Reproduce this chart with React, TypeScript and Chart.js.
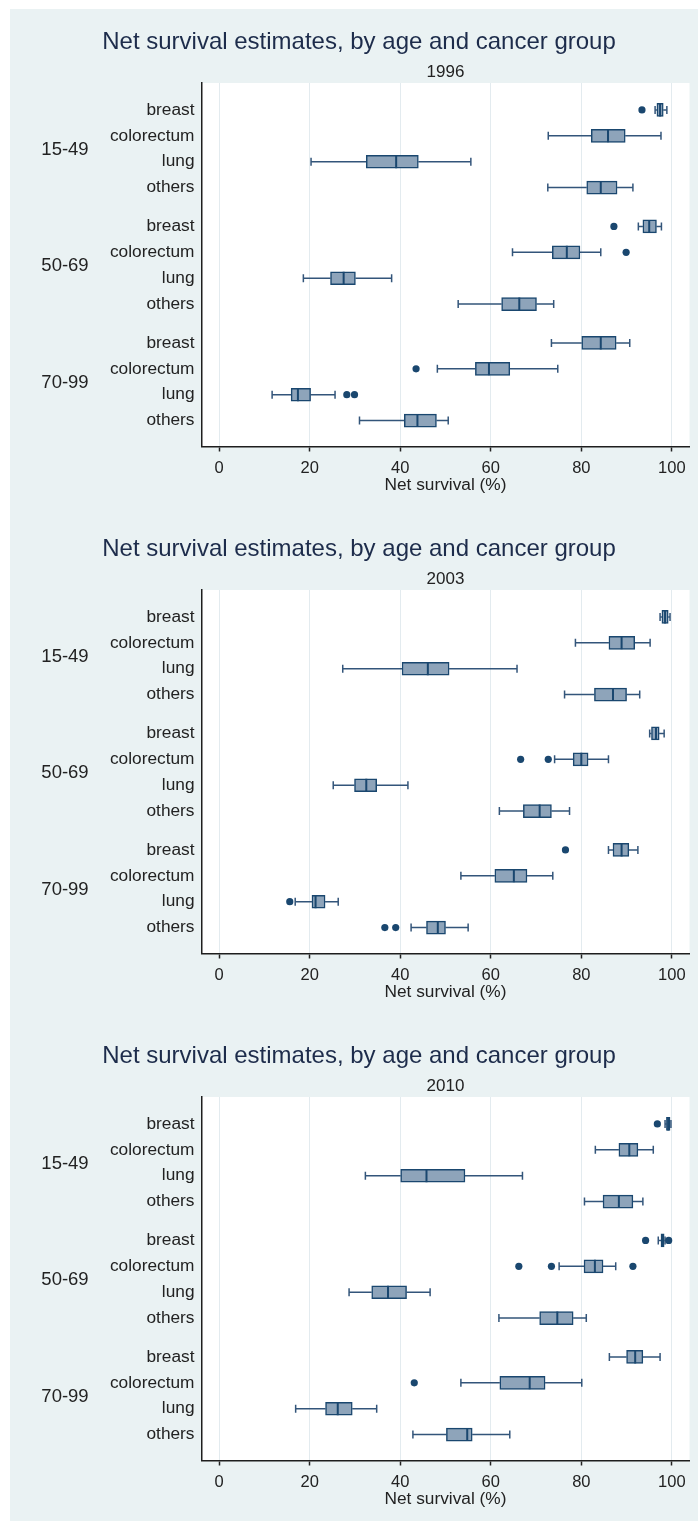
import { useEffect, useRef } from 'react';
import { Chart, registerables } from 'chart.js';

Chart.register(...registerables);

const YEARS = ['1996', '2003', '2010'];
const AGE_GROUPS = ['15-49', '50-69', '70-99'];
const CANCERS = ['breast', 'colorectum', 'lung', 'others'];
const X_TICKS = [0, 20, 40, 60, 80, 100];

// Rows run age group by age group, cancers in CANCERS order within each group.
const LOW_1996 = [96.3, 72.7, 20.3, 72.6, 92.6, 64.8, 18.6, 52.8, 73.4, 48.2, 11.7, 31.0];
const Q1_1996 = [96.7, 82.2, 32.5, 81.2, 93.6, 73.6, 24.6, 62.4, 80.1, 56.6, 15.9, 40.9];
const MED_1996 = [97.4, 85.9, 39.1, 84.3, 95.0, 76.8, 27.5, 66.3, 84.3, 59.6, 17.4, 43.8];
const Q3_1996 = [98.1, 89.7, 44.0, 87.9, 96.6, 79.7, 30.1, 70.1, 87.7, 64.2, 20.2, 48.0];
const HIGH_1996 = [98.9, 97.6, 55.6, 91.4, 97.7, 84.3, 38.1, 73.9, 90.7, 74.8, 25.6, 50.6];
const OUT_1996 = [[93.4], [], [], [], [87.2], [89.9], [], [], [], [43.5], [28.2, 29.9], []];

const LOW_2003 = [97.4, 78.7, 27.3, 76.3, 95.1, 74.1, 25.2, 61.9, 86.0, 53.4, 16.8, 42.4];
const Q1_2003 = [97.8, 86.1, 40.4, 82.9, 95.5, 78.2, 29.9, 67.2, 87.0, 60.9, 20.5, 45.8];
const MED_2003 = [98.5, 88.9, 46.1, 87.0, 96.5, 80.0, 32.5, 70.8, 88.9, 65.1, 21.3, 48.3];
const Q3_2003 = [99.2, 91.8, 50.8, 90.0, 97.2, 81.5, 34.8, 73.4, 90.5, 68.0, 23.4, 50.0];
const HIGH_2003 = [99.6, 95.2, 65.8, 92.9, 98.3, 86.0, 41.7, 77.4, 92.5, 73.7, 26.3, 55.0];
const OUT_2003 = [[], [], [], [], [], [66.6, 72.7], [], [], [76.5], [], [15.6], [36.6, 39.0]];

const LOW_2010 = [98.5, 83.1, 32.3, 80.7, 97.0, 75.1, 28.7, 61.8, 86.2, 53.4, 16.9, 42.8];
const Q1_2010 = [98.8, 88.3, 40.1, 84.8, 97.6, 80.6, 33.7, 70.8, 90.0, 62.0, 23.5, 50.2];
const MED_2010 = [99.2, 90.6, 45.8, 88.3, 97.9, 83.0, 37.3, 74.7, 91.9, 68.6, 26.2, 54.8];
const Q3_2010 = [99.6, 92.5, 54.3, 91.4, 98.3, 84.8, 41.4, 78.2, 93.6, 72.0, 29.4, 55.9];
const HIGH_2010 = [99.8, 95.9, 67.0, 93.6, 98.5, 87.6, 46.6, 81.1, 97.4, 80.1, 34.8, 64.2];
const OUT_2010 = [[96.8], [], [], [], [94.2, 99.3], [66.2, 73.4, 91.4], [], [], [], [43.1], [], []];

const TITLE = 'Net survival estimates, by age and cancer group';
const X_TITLE = 'Net survival (%)';

type Panel = {
  year: string;
  low: number[];
  q1: number[];
  med: number[];
  q3: number[];
  high: number[];
  out: number[][];
};

const PANELS: Panel[] = [
  { year: YEARS[0], low: LOW_1996, q1: Q1_1996, med: MED_1996, q3: Q3_1996, high: HIGH_1996, out: OUT_1996 },
  { year: YEARS[1], low: LOW_2003, q1: Q1_2003, med: MED_2003, q3: Q3_2003, high: HIGH_2003, out: OUT_2003 },
  { year: YEARS[2], low: LOW_2010, q1: Q1_2010, med: MED_2010, q3: Q3_2010, high: HIGH_2010, out: OUT_2010 },
];

const FONT = '"Liberation Sans", Arial, Helvetica, sans-serif';
const BG = '#eaf2f3';
const NAVY = '#1a476f';
const BOX_FILL = '#8ea4ba';
const WHISKER = '#33557a';
const TEXT = '#222222';
const TITLE_COLOR = '#1d2c4b';

// Vertical slot of each row: groups of four with a half-row gap between groups.
const GROUP_STEP = CANCERS.length + 0.5;
const rowPos = (i: number) => Math.floor(i / CANCERS.length) * GROUP_STEP + (i % CANCERS.length);
const ROW_COUNT = AGE_GROUPS.length * CANCERS.length;
const ROWS = Array.from({ length: ROW_COUNT }, (_, i) => i);

const PANEL_W = 688;
const PANEL_H = 507;
const X_AXIS_H = 53;
const AXIS_Y = 437.5;

function buildConfig(panel: Panel, height: number): any {
  const boxes = ROWS.map((i) => ({ y: rowPos(i), x: [panel.q1[i], panel.q3[i]] }));
  const whiskers: any[] = [];
  ROWS.forEach((i) => {
    const y = rowPos(i);
    whiskers.push({ x: panel.low[i], y }, { x: panel.q1[i], y }, { x: null, y: null });
    whiskers.push({ x: panel.q3[i], y }, { x: panel.high[i], y }, { x: null, y: null });
  });
  const caps: any[] = [];
  ROWS.forEach((i) => {
    caps.push({ x: panel.low[i], y: rowPos(i) }, { x: panel.high[i], y: rowPos(i) });
  });
  const medians = ROWS.map((i) => ({ x: panel.med[i], y: rowPos(i) }));
  const outliers: any[] = [];
  ROWS.forEach((i) => panel.out[i].forEach((v) => outliers.push({ x: v, y: rowPos(i) })));

  const decorations = {
    id: 'panelDecorations',
    beforeDraw(chart: any) {
      const { ctx, chartArea } = chart;
      ctx.save();
      ctx.fillStyle = '#ffffff';
      ctx.fillRect(chartArea.left, chartArea.top, chartArea.right - chartArea.left, chartArea.bottom - chartArea.top);
      ctx.restore();
    },
    afterDraw(chart: any) {
      const { ctx, chartArea } = chart;
      const yScale = chart.scales.y;
      ctx.save();
      ctx.textAlign = 'center';
      ctx.textBaseline = 'alphabetic';
      ctx.fillStyle = TITLE_COLOR;
      ctx.font = `24px ${FONT}`;
      ctx.fillText(TITLE, 349, 40);
      ctx.fillStyle = TEXT;
      ctx.font = `17px ${FONT}`;
      ctx.fillText(panel.year, (chartArea.left + chartArea.right) / 2, 68);
      ctx.font = `18.5px ${FONT}`;
      ctx.textBaseline = 'middle';
      AGE_GROUPS.forEach((g, k) => {
        const y = yScale.getPixelForValue(k * GROUP_STEP + (CANCERS.length - 1) / 2);
        ctx.fillText(g, 55, y + 1);
      });
      ctx.restore();
    },
  };

  return {
    type: 'scatter',
    data: {
      datasets: [
        {
          type: 'line',
          data: whiskers,
          borderColor: WHISKER,
          borderWidth: 1.5,
          pointRadius: 0,
          fill: false,
          tension: 0,
          spanGaps: false,
          order: 4,
        },
        {
          type: 'bar',
          indexAxis: 'y',
          data: boxes,
          backgroundColor: BOX_FILL,
          borderColor: NAVY,
          borderWidth: 1.5,
          borderSkipped: false,
          barThickness: 13,
          order: 3,
        },
        {
          type: 'scatter',
          data: caps,
          pointStyle: 'line',
          pointRotation: 90,
          pointRadius: 4,
          pointBorderWidth: 1.5,
          pointBorderColor: WHISKER,
          order: 2,
        },
        {
          type: 'scatter',
          data: medians,
          pointStyle: 'line',
          pointRotation: 90,
          pointRadius: 6.5,
          pointBorderWidth: 2,
          pointBorderColor: NAVY,
          order: 1,
        },
        {
          type: 'scatter',
          data: outliers,
          pointStyle: 'circle',
          pointRadius: 3.6,
          pointBackgroundColor: NAVY,
          pointBorderColor: NAVY,
          pointBorderWidth: 0,
          order: 0,
        },
      ],
    },
    options: {
      animation: false,
      responsive: false,
      maintainAspectRatio: false,
      events: [],
      layout: { padding: { top: 74, left: 0, right: 8, bottom: height - X_AXIS_H - AXIS_Y } },
      plugins: { legend: { display: false }, tooltip: { enabled: false }, title: { display: false } },
      scales: {
        x: {
          type: 'linear',
          position: 'bottom',
          min: -3.9,
          max: 103.9,
          offset: false,
          afterBuildTicks: (s: any) => {
            s.ticks = X_TICKS.map((v) => ({ value: v }));
          },
          afterFit: (s: any) => {
            s.height = X_AXIS_H;
          },
          ticks: {
            autoSkip: false,
            maxRotation: 0,
            padding: 7,
            color: TEXT,
            font: { family: FONT, size: 16.5 },
          },
          grid: {
            color: '#e3ebef',
            lineWidth: 1,
            drawTicks: true,
            tickLength: 5,
            tickColor: '#222222',
            tickWidth: 1.5,
            offset: false,
          },
          border: { display: true, color: '#1e1e1e', width: 1.5 },
          title: {
            display: true,
            text: X_TITLE,
            color: TEXT,
            font: { family: FONT, size: 17.3 },
            padding: { top: 0, bottom: 4 },
          },
        },
        y: {
          type: 'linear',
          position: 'left',
          reverse: true,
          min: -1.04,
          max: 13.0,
          offset: false,
          afterBuildTicks: (s: any) => {
            s.ticks = ROWS.map((i) => ({ value: rowPos(i) }));
          },
          afterFit: (s: any) => {
            s.width = 191.5;
          },
          ticks: {
            autoSkip: false,
            padding: 7,
            color: TEXT,
            font: { family: FONT, size: 17.3 },
            callback: (_v: any, idx: number) => CANCERS[idx % CANCERS.length],
          },
          grid: { display: false, drawTicks: false, offset: false },
          border: { display: true, color: '#1e1e1e', width: 1.5 },
        },
      },
    },
    plugins: [decorations],
  };
}

function BoxPanel({ panel, top, height }: { panel: Panel; top: number; height: number }) {
  const ref = useRef<HTMLCanvasElement>(null);
  useEffect(() => {
    if (!ref.current) return;
    const chart = new Chart(ref.current, buildConfig(panel, height));
    return () => chart.destroy();
  }, [panel, height]);
  return (
    <canvas
      ref={ref}
      width={PANEL_W}
      height={height}
      style={{ position: 'absolute', left: 0, top, width: PANEL_W, height, display: 'block' }}
    />
  );
}

export default function App() {
  return (
    <div
      style={{
        position: 'fixed',
        left: 0,
        top: 0,
        width: 698,
        height: 1521,
        background: '#ffffff',
        overflow: 'hidden',
      }}
    >
      <div
        style={{
          position: 'absolute',
          left: 10,
          top: 9,
          width: PANEL_W,
          height: 1512,
          background: BG,
        }}
      >
        {PANELS.map((p, i) => (
          <BoxPanel
            key={p.year}
            panel={p}
            top={i * PANEL_H}
            height={i === PANELS.length - 1 ? 1512 - 2 * PANEL_H : PANEL_H}
          />
        ))}
      </div>
    </div>
  );
}
